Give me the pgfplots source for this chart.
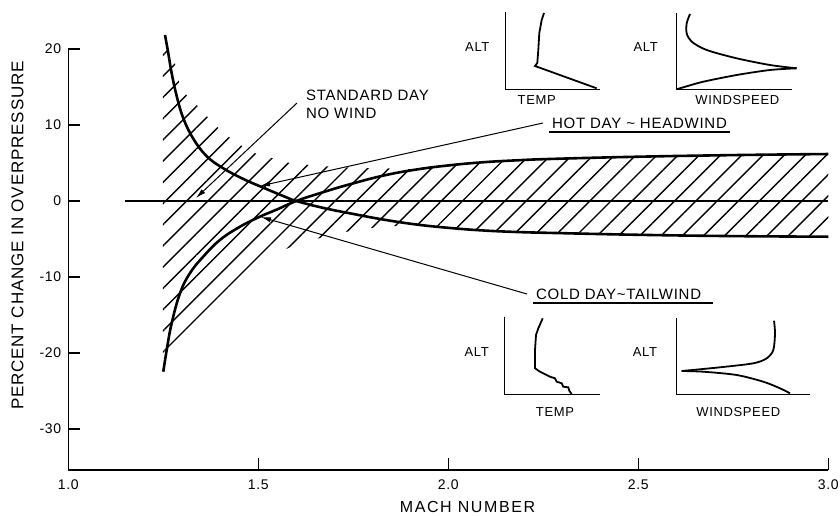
\documentclass[border=0pt]{standalone}
\usepackage{fontspec}
\setmainfont{Liberation Sans}
\newfontfamily\spaced[LetterSpace=5]{Liberation Sans}
\newfontfamily\wide[LetterSpace=10]{Liberation Sans}
\usepackage{pgfplots}
\pgfplotsset{compat=1.18}
\usetikzlibrary{patterns.meta,arrows.meta}

\begin{document}
\begin{tikzpicture}
% ---------------- main data axis ----------------
\begin{axis}[
  scale only axis, width=380pt, height=210.5pt,
  xmin=1, xmax=3, ymin=-35.4, ymax=20,
  axis lines=left, axis line style={-, line width=0.75pt},
  clip=false,
  xtick={1,1.5,2,2.5,3}, xticklabels={1.0,1.5,2.0,2.5,3.0},
  ytick={-30,-20,-10,0,10,20}, yticklabels={-30,-20,-10,0,10,20},
  tick align=inside, major tick length=6pt,
  tick style={line width=0.75pt, black},
  ticklabel style={font=\spaced\fontsize{7}{8}\selectfont},
  xticklabel style={yshift=-1.5pt},
]
% hatched band
\addplot[draw=none, pattern={Lines[angle=45,distance=7.5pt,line width=0.7pt]}] coordinates {
 (1.249,-20.4) (1.249,20.3) (1.275,19.5) (1.285,17) (1.295,15) (1.318,13.5)
 (1.345,12.3) (1.378,10.4) (1.415,8.7) (1.452,7.4) (1.491,6.3) (1.536,5.66)
 (1.583,5.0) (1.662,4.6) (1.77,4.35) (1.87,4.25)
 (1.917,4.15) (2.004,4.7) (2.092,5.1) (2.180,5.35) (2.268,5.53) (2.504,5.83) (2.767,6.05) (3.0,6.18)
 (3.0,-4.7) (2.75,-4.65) (2.5,-4.45) (2.27,-4.2) (2.180,-4.12) (2.092,-3.91) (2.004,-3.59) (1.917,-3.16)
 (1.86,-3.3) (1.794,-3.55) (1.728,-4.08) (1.662,-4.87) (1.591,-5.92) (1.491,-8.16) (1.333,-16.45)
} -- cycle;
% zero line
\addplot[black, line width=0.75pt] coordinates {(1.15,0) (3.0,0)};
% curve A (descending)
\addplot[black, line width=1.3pt, smooth, tension=0.7] coordinates {
 (1.2545,21.84) (1.2632,19.43) (1.2721,16.80) (1.2853,13.8) (1.3026,10.9)
 (1.3289,8.2) (1.3642,5.9) (1.4079,4.3) (1.4605,2.9) (1.5132,1.75)
 (1.5658,0.65) (1.60,0.0) (1.67,-0.9) (1.741,-1.62) (1.830,-2.45) (1.917,-3.1)
 (2.004,-3.55) (2.092,-3.88) (2.180,-4.08) (2.27,-4.2) (2.5,-4.45) (2.75,-4.62) (3.0,-4.7)
};
% curve B (ascending)
\addplot[black, line width=1.3pt, smooth, tension=0.7] coordinates {
 (1.250,-22.46) (1.259,-19.6) (1.272,-16.1) (1.294,-12.14) (1.320,-9.51)
 (1.355,-7.33) (1.399,-5.13) (1.452,-3.38) (1.504,-2.07) (1.55,-1.1)
 (1.60,0.0) (1.67,1.15) (1.741,2.2) (1.830,3.35) (1.917,4.15) (2.004,4.7)
 (2.092,5.1) (2.180,5.35) (2.268,5.53) (2.504,5.83) (2.767,6.05) (3.0,6.18)
};
\end{axis}
% ---------------- pixel overlay axis (annotations, insets) ----------------
\begin{axis}[
  scale only axis, width=380pt, height=210.5pt,
  xmin=68.3, xmax=828.3, ymin=49, ymax=470, y dir=reverse,
  hide axis, clip=false,
]
\coordinate (bbA) at (axis cs:0,515);
\coordinate (bbB) at (axis cs:840,0);
% axis titles
\node[rotate=90, font=\spaced\fontsize{8.5}{10}\selectfont] at (axis cs:17.5,235.5) {PERCENT CHANGE IN OVERPRESSURE};
\node[font=\wide\fontsize{8}{10}\selectfont] at (axis cs:467.5,506.5) {MACH NUMBER};
% annotations
\node[anchor=west, align=left, font=\spaced\fontsize{7.5}{9}\selectfont] at (axis cs:299,104) {STANDARD DAY\\NO WIND};
\node[anchor=west, font=\spaced\fontsize{7.5}{9}\selectfont] at (axis cs:545,123) {HOT DAY \textasciitilde{} HEADWIND};
\node[anchor=west, font=\spaced\fontsize{7.5}{9}\selectfont] at (axis cs:529,294) {COLD DAY\textasciitilde TAILWIND};
\addplot[black, line width=0.6pt] coordinates {(549,132) (730,132)};
\addplot[black, line width=0.6pt] coordinates {(533,303) (713,303)};
% leaders
\addplot[black, line width=0.5pt, -{Latex[length=5pt,width=2.6pt]}] coordinates {(297,103) (196,198)};
\addplot[black, line width=0.5pt, -{Latex[length=5pt,width=2.6pt]}] coordinates {(543,123) (260,186)};
\addplot[black, line width=0.5pt, -{Latex[length=5pt,width=2.6pt]}] coordinates {(527,294) (261,217)};
% ---- top insets ----
\addplot[black, line width=0.5pt] coordinates {(505,12) (505,89) (600,89)};
\addplot[black, line width=0.9pt] coordinates {(544,13) (541.7,20) (539.3,33) (538.3,50) (537.3,63) (535,66) (596.7,88.3)};
\node[font=\spaced\fontsize{6.5}{7}\selectfont] at (axis cs:477.3,46.7) {ALT};
\node[font=\spaced\fontsize{6.5}{7}\selectfont] at (axis cs:536.7,100) {TEMP};
\addplot[black, line width=0.5pt] coordinates {(676,13) (676,89) (792,89)};
\addplot[black, line width=0.9pt, smooth, tension=0.5] coordinates {(690,14) (686.7,23.3) (686.7,33.3) (691.7,41.7) (706.7,50) (736.7,58.3) (770,65) (796.7,68.3)};
\addplot[black, line width=0.9pt, smooth, tension=0.5] coordinates {(796.7,68.3) (770,70) (736.7,75) (703.3,81.7) (683.3,87.3) (676.7,89.3)};
\node[font=\spaced\fontsize{6.5}{7}\selectfont] at (axis cs:645.7,46.7) {ALT};
\node[font=\spaced\fontsize{6.5}{7}\selectfont] at (axis cs:737.3,100) {WINDSPEED};
% ---- bottom insets ----
\addplot[black, line width=0.5pt] coordinates {(504.3,316.7) (504.3,394.3) (600,394.3)};
\addplot[black, line width=0.9pt] coordinates {(542.7,318.3) (538.3,328.3) (536,335) (535,350) (535,368.3) (540,371.7) (550,376.7) (555,378.3) (556.7,381.7) (561.7,383.3) (563.3,386.7) (568.3,387.3) (569.3,390.7) (571.7,394)};
\node[font=\spaced\fontsize{6.5}{7}\selectfont] at (axis cs:476.7,351.7) {ALT};
\node[font=\spaced\fontsize{6.5}{7}\selectfont] at (axis cs:555,411.7) {TEMP};
\addplot[black, line width=0.5pt] coordinates {(676,318.3) (676,394.3) (810,394.3)};
\addplot[black, line width=0.9pt, smooth, tension=0.5] coordinates {(774,320.7) (775,333.3) (773.3,350) (766.7,358.3) (753.3,363.3) (720,367.3) (681.7,371)};
\addplot[black, line width=0.9pt, smooth, tension=0.5] coordinates {(681.7,371) (703.3,371.7) (736.7,375) (763.3,381.7) (780,388.3) (790,393.3)};
\node[font=\spaced\fontsize{6.5}{7}\selectfont] at (axis cs:645,351.7) {ALT};
\node[font=\spaced\fontsize{6.5}{7}\selectfont] at (axis cs:738.3,411.7) {WINDSPEED};
\end{axis}
\pgfresetboundingbox
\path[use as bounding box] (bbA) rectangle (bbB);
\end{tikzpicture}
\end{document}
